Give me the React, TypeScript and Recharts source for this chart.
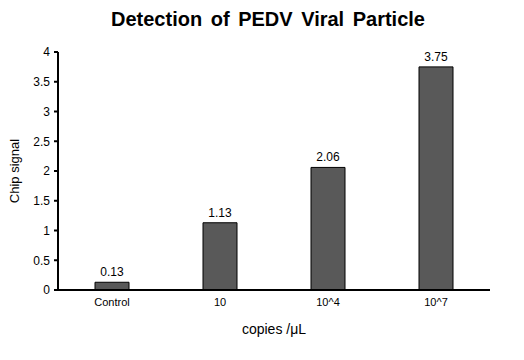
import { Bar, BarChart, LabelList, XAxis, YAxis } from "recharts";

const categories = ["Control", "10", "10^4", "10^7"];
const signals = [0.13, 1.13, 2.06, 3.75];
const yTicks = [0, 0.5, 1, 1.5, 2, 2.5, 3, 3.5, 4];

const data = categories.map((name, i) => ({ name, signal: signals[i] }));

const font = "'Liberation Sans', Arial, sans-serif";

export default function App() {
  return (
    <div style={{ position: "absolute", left: 0, top: 0, width: 524, height: 360, background: "#fff", fontFamily: font }}>
      <div
        style={{
          position: "absolute",
          top: 8,
          left: 0,
          width: 536,
          textAlign: "center",
          fontSize: 20,
          fontWeight: "bold",
          wordSpacing: 3,
          color: "#000",
        }}
      >
        Detection of PEDV Viral Particle
      </div>
      <BarChart width={524} height={360} data={data} margin={{ top: 52, right: 34, left: 0, bottom: 0 }}>
        <XAxis
          dataKey="name"
          height={70}
          axisLine={{ stroke: "#000", strokeWidth: 2 }}
          tickLine={false}
          tick={{ fill: "#000", fontSize: 11, fontFamily: font }}
          label={{ value: "copies /μL", position: "insideBottom", offset: 26, fill: "#000", fontSize: 14, fontFamily: font }}
        />
        <YAxis
          width={58}
          domain={[0, 4]}
          ticks={yTicks}
          axisLine={{ stroke: "#000", strokeWidth: 2 }}
          tickLine={{ stroke: "#000", strokeWidth: 2 }}
          tickSize={4}
          tickMargin={4}
          tick={{ fill: "#000", fontSize: 12, fontFamily: font }}
          label={{
            value: "Chip signal",
            angle: -90,
            position: "insideLeft",
            offset: 14,
            fill: "#000",
            fontSize: 13,
            fontFamily: font,
            style: { textAnchor: "middle" },
          }}
        />
        <Bar dataKey="signal" fill="#595959" stroke="#000" strokeWidth={1} barSize={34} isAnimationActive={false}>
          <LabelList dataKey="signal" position="top" offset={6} fill="#000" fontSize={12} fontFamily={font} />
        </Bar>
      </BarChart>
    </div>
  );
}
